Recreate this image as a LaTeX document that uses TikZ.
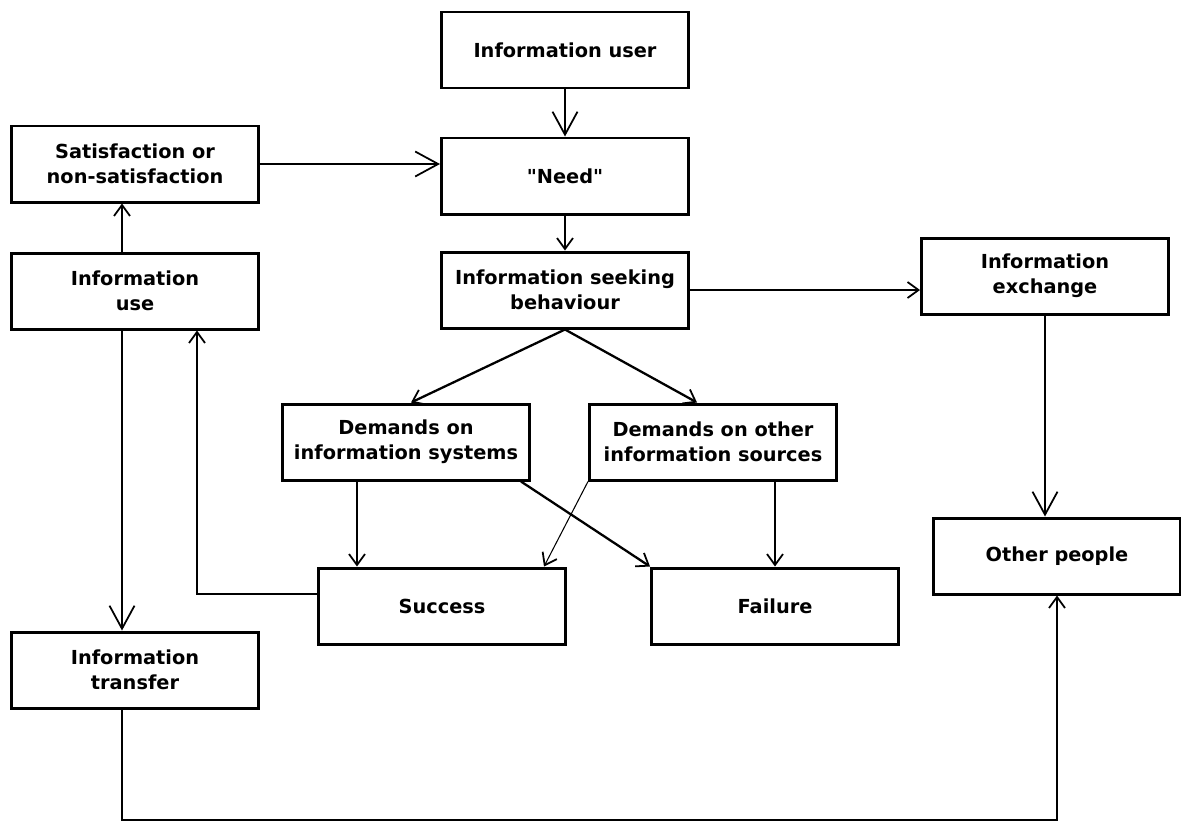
\documentclass[tikz,border=0pt]{standalone}
\usepackage{fontspec}
\setmainfont{DejaVu Sans}
\usetikzlibrary{arrows.meta}

\begin{document}
\begin{tikzpicture}[x=0.2mm, y=-0.2mm, ->, >={Straight Barb[length=2.2mm, width=3.2mm, line width=1pt]}, line width=1.3pt, bigtip/.style={>={Straight Barb[length=4.6mm, width=5mm, line width=1pt]}}, thin line/.style={line width=0.6pt}, box/.style={rectangle, draw, line width=1.7pt, minimum width=49.4mm, minimum height=15.2mm, align=center, font=\bfseries\fontsize{11}{14}\selectfont}]
  \useasboundingbox (0,0) rectangle (1181,822);

  \node[box] (user)  at (565,50)    {Information user};
  \node[box] (need)  at (565,176)   {\textquotedbl Need\textquotedbl};
  \node[box] (seek)  at (565,290)   {Information seeking\\behaviour};
  \node[box] (satis) at (135,164)   {Satisfaction or\\non-satisfaction};
  \node[box] (use)   at (135,291)   {Information\\use};
  \node[box] (exch)  at (1045,276)  {Information\\exchange};
  \node[box] (dsys)  at (406,442)   {Demands on\\information systems};
  \node[box] (doth)  at (713,442)   {Demands on other\\information sources};
  \node[box] (succ)  at (442,606)   {Success};
  \node[box] (fail)  at (775,606)   {Failure};
  \node[box] (other) at (1057,556)  {Other people};
  \node[box] (trans) at (135,670)   {Information\\transfer};
  \coordinate (floor) at (0,820);

  % main chain
  \draw[bigtip] (user) -- (need);
  \draw[bigtip] (satis.east) -- (satis.east -| need.west);
  \draw (need) -- (seek);
  \draw (seek.east) -- (seek.east -| exch.west);
  \draw (seek.south) -- ([xshift=1mm]dsys.north);
  \draw (seek.south) -- ([xshift=-3.2mm]doth.north);

  % use and transfer
  \draw ([xshift=-2.6mm]use.north) -- ([xshift=-2.6mm]satis.south);
  \draw[bigtip] ([xshift=-2.6mm]use.south) -- ([xshift=-2.6mm]trans.north);
  \draw[line width=1.6pt] ([yshift=2.4mm]succ.west) -| ([xshift=12.4mm]use.south);

  % demands
  \draw ([xshift=-9.8mm]dsys.south) -- ([xshift=-9.8mm]dsys.south |- succ.north);
  \draw ([xshift=-2mm]dsys.south east) -- (fail.north west);
  \draw[thin line] (doth.south west) -- ([xshift=-4.6mm]succ.north east);
  \draw (doth.south -| fail.north) -- (fail.north);

  % other people
  \draw[bigtip] (exch) -- (exch |- other.north);
  \draw ([xshift=-2.6mm]trans.south) -- ([xshift=-2.6mm]trans.south |- floor) -| (other.south);
\end{tikzpicture}
\end{document}
